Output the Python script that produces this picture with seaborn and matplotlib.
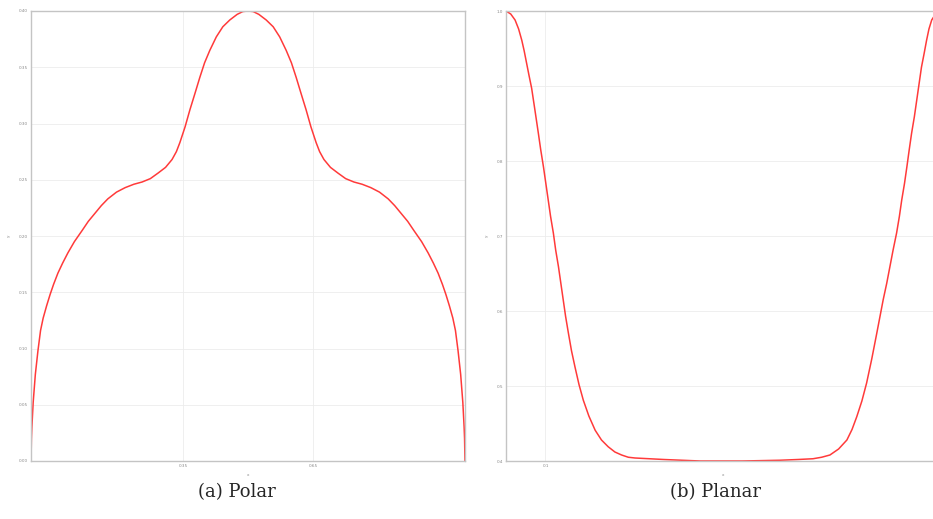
import numpy as np
import pandas as pd
import seaborn as sns
import matplotlib.pyplot as plt

# (a) Polar (left half rising, right half falling)
polar_x = [0, 0.001, 0.002, 0.005, 0.010, 0.016, 0.022, 0.028, 0.036, 0.044, 0.052,
           0.062, 0.073, 0.085, 0.100, 0.118, 0.132, 0.147, 0.162, 0.177, 0.197,
           0.217, 0.237, 0.256, 0.275, 0.293, 0.310, 0.325, 0.335, 0.343, 0.355,
           0.366, 0.378, 0.389, 0.400, 0.412, 0.427, 0.442, 0.458, 0.475, 0.488, 0.5,
           0.512, 0.525, 0.542, 0.558, 0.573, 0.588, 0.600, 0.611, 0.622, 0.634,
           0.645, 0.657, 0.665, 0.675, 0.690, 0.707, 0.725, 0.744, 0.763, 0.783,
           0.803, 0.823, 0.838, 0.853, 0.868, 0.882, 0.900, 0.915, 0.927, 0.938,
           0.948, 0.956, 0.964, 0.972, 0.978, 0.984, 0.990, 0.995, 0.998, 0.999, 1.0]
polar_y = [0, 0.02, 0.03, 0.052, 0.077, 0.098, 0.116, 0.127, 0.138, 0.148, 0.157,
           0.167, 0.176, 0.185, 0.195, 0.205, 0.213, 0.220, 0.227, 0.233, 0.239,
           0.243, 0.246, 0.248, 0.251, 0.256, 0.261, 0.268, 0.275, 0.283, 0.297,
           0.312, 0.327, 0.341, 0.354, 0.365, 0.377, 0.386, 0.392, 0.397, 0.3995, 0.4,
           0.3995, 0.397, 0.392, 0.386, 0.377, 0.365, 0.354, 0.341, 0.327, 0.312,
           0.297, 0.283, 0.275, 0.268, 0.261, 0.256, 0.251, 0.248, 0.246, 0.243,
           0.239, 0.233, 0.227, 0.220, 0.213, 0.205, 0.195, 0.185, 0.176, 0.167,
           0.157, 0.148, 0.138, 0.127, 0.116, 0.098, 0.077, 0.052, 0.03, 0.02, 0]
polar_yticks = [0, 0.05, 0.1, 0.15, 0.2, 0.25, 0.3, 0.35, 0.4]
polar_xticks = [0.35, 0.65]

# (b) Planar
planar_x = [0, 0.012, 0.023, 0.032, 0.040, 0.046, 0.052, 0.058, 0.065, 0.073, 0.082,
            0.088, 0.095, 0.101, 0.107, 0.113, 0.120, 0.126, 0.133, 0.139, 0.145,
            0.151, 0.158, 0.166, 0.175, 0.185, 0.196, 0.210, 0.226, 0.242, 0.259,
            0.276, 0.293, 0.310, 0.327, 0.400, 0.492, 0.600, 0.694, 0.740, 0.778,
            0.800, 0.821, 0.843, 0.864, 0.877, 0.889, 0.902, 0.914, 0.927, 0.940,
            0.948, 0.956, 0.965, 0.973, 0.981, 0.990, 0.997, 1.003, 1.010, 1.016,
            1.022, 1.028, 1.035, 1.041, 1.047, 1.053, 1.060, 1.066, 1.072, 1.079,
            1.090, 1.1]
planar_y = [1.0, 0.996, 0.988, 0.976, 0.961, 0.947, 0.931, 0.915, 0.897, 0.869, 0.837,
            0.815, 0.792, 0.770, 0.748, 0.726, 0.704, 0.681, 0.659, 0.637, 0.615,
            0.593, 0.571, 0.547, 0.525, 0.502, 0.481, 0.460, 0.441, 0.428, 0.419,
            0.412, 0.408, 0.405, 0.404, 0.402, 0.400, 0.400, 0.401, 0.402, 0.403,
            0.405, 0.408, 0.416, 0.428, 0.442, 0.459, 0.480, 0.504, 0.536, 0.571,
            0.593, 0.615, 0.637, 0.659, 0.681, 0.704, 0.726, 0.748, 0.770, 0.792,
            0.815, 0.837, 0.859, 0.881, 0.903, 0.925, 0.944, 0.961, 0.976, 0.988,
            0.997, 1.0]
planar_yticks = [0.4, 0.5, 0.6, 0.7, 0.8, 0.9, 1]
planar_xticks = [0.1]

sns.set_style("whitegrid")

W, H = 933, 519
fig = plt.figure(figsize=(W / 100, H / 100), dpi=100)
ax1 = fig.add_axes([31 / W, 1 - 461 / H, 434 / W, 450 / H])
ax2 = fig.add_axes([506 / W, 1 - 461 / H, 434 / W, 450 / H])

df1 = pd.DataFrame({"x": polar_x, "y": polar_y})
df2 = pd.DataFrame({"x": planar_x, "y": planar_y})

red = "#ff3a3a"
sns.lineplot(data=df1, x="x", y="y", sort=False, color=red, linewidth=1.1, ax=ax1)
sns.lineplot(data=df2, x="x", y="y", sort=False, color=red, linewidth=1.1, ax=ax2)

ax1.set_xlim(0, 1)
ax1.set_ylim(0, 0.4)
ax1.set_yticks(polar_yticks)
ax1.set_xticks(polar_xticks)
ax2.set_xlim(0, 1.1)
ax2.set_ylim(0.4, 1.0)
ax2.set_yticks(planar_yticks)
ax2.set_xticks(planar_xticks)

for ax in (ax1, ax2):
    ax.grid(True, color="#ececec", linewidth=0.6)
    for s in ax.spines.values():
        s.set_color("#c4c4c4")
        s.set_linewidth(1.0)
    ax.tick_params(direction="in", length=3, width=0.5, color="#aaaaaa",
                   labelsize=3, labelcolor="#888888", pad=2)
    ax.set_xlabel("x", fontsize=3, color="#888888", labelpad=4)
    ax.set_ylabel("y", fontsize=3, color="#888888", labelpad=6)

fig.text(237 / W, 1 - 492 / H, "(a) Polar", ha="center", va="center",
         fontsize=13, family="DejaVu Serif")
fig.text(715 / W, 1 - 492 / H, "(b) Planar", ha="center", va="center",
         fontsize=13, family="DejaVu Serif")

fig.savefig("out.png", dpi=100)
